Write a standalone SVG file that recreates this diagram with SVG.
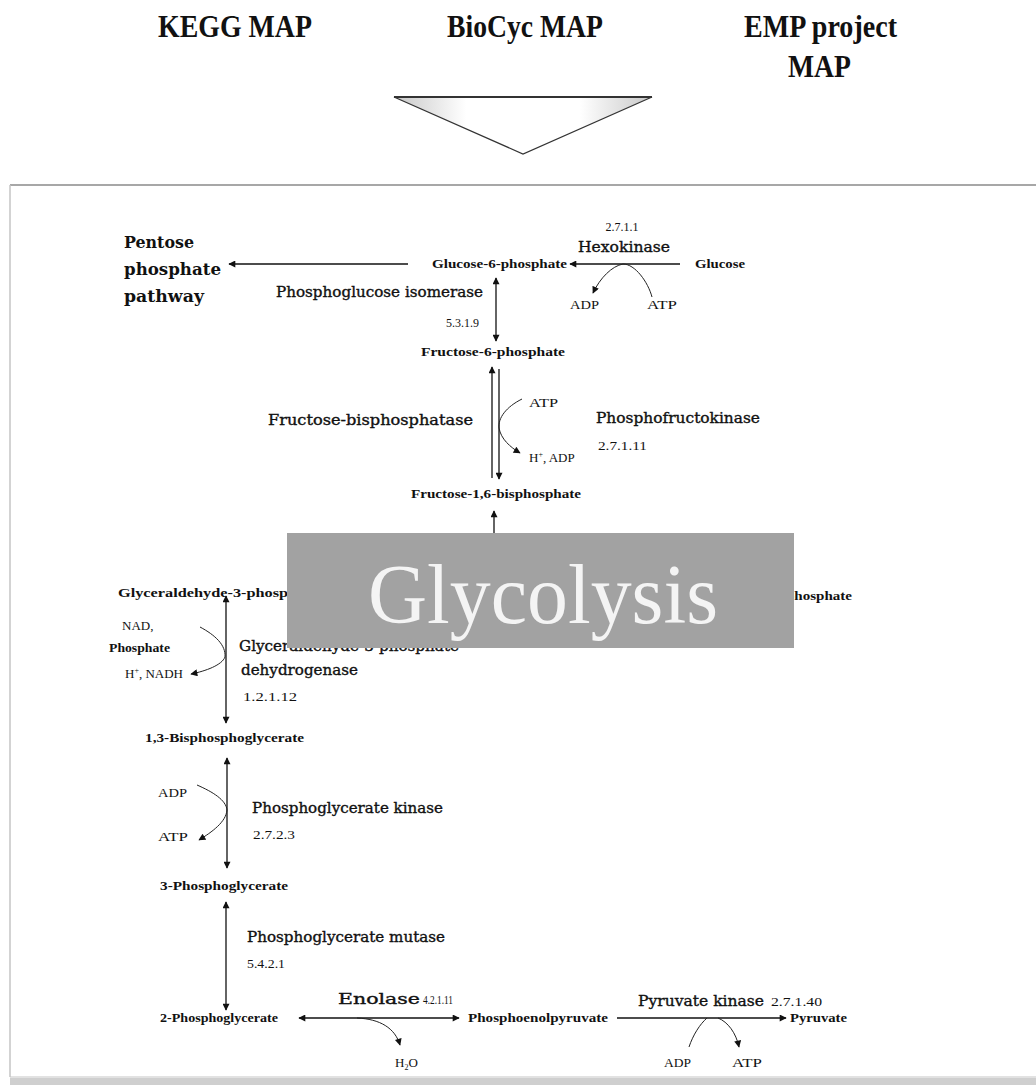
<svg xmlns="http://www.w3.org/2000/svg" width="1036" height="1085" viewBox="0 0 1036 1085">
<defs>
<marker id="ah" viewBox="0 0 10 10" refX="9" refY="5" markerWidth="8" markerHeight="7" markerUnits="userSpaceOnUse" orient="auto-start-reverse">
<path d="M0,0 L10,5 L0,10 z" fill="#111"/>
</marker>
<linearGradient id="tri" x1="0" y1="0" x2="1" y2="0">
<stop offset="0" stop-color="#c8c8c8"/>
<stop offset="0.28" stop-color="#ffffff"/>
<stop offset="0.72" stop-color="#ffffff"/>
<stop offset="1" stop-color="#c8c8c8"/>
</linearGradient>
<style>
.hdr{font-family:"Liberation Serif",serif;font-weight:bold;font-size:31px;fill:#111}
.met{font-family:"Liberation Serif",serif;font-weight:bold;font-size:12.5px;fill:#111}
.enz{font-family:"DejaVu Serif",serif;font-size:14.5px;fill:#111;stroke:#111;stroke-width:0.35}
.ppp{font-family:"DejaVu Serif",serif;font-weight:bold;font-size:17px;fill:#111}
.co{font-family:"Liberation Serif",serif;font-size:13px;fill:#111}
.ec{font-family:"Liberation Serif",serif;font-size:12px;fill:#111}
.ln{stroke:#111;stroke-width:1.3;fill:none}
.cv{stroke:#222;stroke-width:1;fill:none}
</style>
</defs>
<rect width="1036" height="1085" fill="#ffffff"/>

<g id="header">
<text class="hdr" x="158" y="37" textLength="154" lengthAdjust="spacingAndGlyphs">KEGG MAP</text>
<text class="hdr" x="447" y="37" textLength="156" lengthAdjust="spacingAndGlyphs">BioCyc MAP</text>
<text class="hdr" x="744" y="37" textLength="153" lengthAdjust="spacingAndGlyphs">EMP project</text>
<text class="hdr" x="788" y="77" textLength="63" lengthAdjust="spacingAndGlyphs">MAP</text>
<polygon points="394,97 652,97 523,154" fill="url(#tri)" stroke="#333" stroke-width="1.2"/>
<line x1="394" y1="97" x2="652" y2="97" stroke="#333" stroke-width="2"/>
</g>

<g id="frame">
<line x1="10" y1="185" x2="1036" y2="185" stroke="#8a8a8a" stroke-width="1.5"/>
<line x1="10" y1="185" x2="10" y2="1077" stroke="#c4c4c4" stroke-width="1.5"/>
<line x1="10" y1="1077" x2="1036" y2="1077" stroke="#c4c4c4" stroke-width="1"/>
<rect x="10" y="1078" width="1026" height="7" fill="#cfcfcf"/>
</g>

<g id="connectors">
<line class="ln" x1="408" y1="264" x2="229" y2="264" marker-end="url(#ah)"/>
<line class="ln" x1="680" y1="264" x2="570" y2="264" marker-end="url(#ah)"/>
<path class="cv" d="M623,264 C612,266 600,278 593,293" marker-end="url(#ah)"/>
<path class="cv" d="M623,264 C635,264 648,282 652,297"/>
<line class="ln" x1="496" y1="278" x2="496" y2="341" marker-start="url(#ah)" marker-end="url(#ah)"/>
<line class="ln" x1="492" y1="478" x2="492" y2="367" marker-end="url(#ah)"/>
<line class="ln" x1="499" y1="369" x2="499" y2="479" marker-end="url(#ah)"/>
<path class="cv" d="M522,399 C506,407 498,418 499,428 C501,439 510,447 520,453" marker-end="url(#ah)"/>
<line class="ln" x1="494" y1="533" x2="494" y2="511" marker-end="url(#ah)"/>
<line class="ln" x1="226" y1="596" x2="226" y2="723" marker-start="url(#ah)" marker-end="url(#ah)"/>
<path class="cv" d="M200,627 C215,635 226,645 225,657 C222,665 206,671 191,674" marker-end="url(#ah)"/>
<line class="ln" x1="227" y1="758" x2="227" y2="868" marker-start="url(#ah)" marker-end="url(#ah)"/>
<path class="cv" d="M197,785 C213,792 226,800 227,810 C226,822 212,832 199,840" marker-end="url(#ah)"/>
<line class="ln" x1="226" y1="902" x2="226" y2="1010" marker-start="url(#ah)" marker-end="url(#ah)"/>
<line class="ln" x1="299" y1="1018" x2="459" y2="1018" marker-start="url(#ah)" marker-end="url(#ah)"/>
<path class="cv" d="M357,1018 C380,1019 395,1028 400,1045" marker-end="url(#ah)"/>
<line class="ln" x1="617" y1="1018" x2="786" y2="1018" marker-end="url(#ah)"/>
<path class="cv" d="M689,1047 C693,1035 700,1024 707,1018"/>
<path class="cv" d="M718,1018 C728,1022 736,1033 739,1047" marker-end="url(#ah)"/>
</g>

<g id="pentose-phosphate-pathway">
<text class="ppp" x="124" y="248" textLength="70" lengthAdjust="spacingAndGlyphs">Pentose</text>
<text class="ppp" x="124" y="275" textLength="97" lengthAdjust="spacingAndGlyphs">phosphate</text>
<text class="ppp" x="124" y="302" textLength="80" lengthAdjust="spacingAndGlyphs">pathway</text>
</g>

<g id="glucose">
<text class="met" x="695" y="268" textLength="50" lengthAdjust="spacingAndGlyphs">Glucose</text>
</g>
<g id="hexokinase">
<text class="ec" x="622" y="231" text-anchor="middle">2.7.1.1</text>
<text class="enz" x="578" y="252" textLength="92" lengthAdjust="spacingAndGlyphs">Hexokinase</text>
<text class="co" x="570" y="309" textLength="29" lengthAdjust="spacingAndGlyphs">ADP</text>
<text class="co" x="647" y="309" textLength="30" lengthAdjust="spacingAndGlyphs">ATP</text>
</g>
<g id="glucose-6-phosphate">
<text class="met" x="432" y="268" textLength="135" lengthAdjust="spacingAndGlyphs">Glucose-6-phosphate</text>
</g>
<g id="phosphoglucose-isomerase">
<text class="enz" x="276" y="297" textLength="207" lengthAdjust="spacingAndGlyphs">Phosphoglucose isomerase</text>
<text class="ec" x="479" y="327" text-anchor="end">5.3.1.9</text>
</g>
<g id="fructose-6-phosphate">
<text class="met" x="421" y="356" textLength="144" lengthAdjust="spacingAndGlyphs">Fructose-6-phosphate</text>
</g>
<g id="fructose-bisphosphatase">
<text class="enz" x="268" y="425" textLength="205" lengthAdjust="spacingAndGlyphs">Fructose-bisphosphatase</text>
</g>
<g id="phosphofructokinase">
<text class="co" x="529" y="407" textLength="29" lengthAdjust="spacingAndGlyphs">ATP</text>
<text class="co" x="529" y="462">H<tspan font-size="8" dy="-5">+</tspan><tspan dy="5">, ADP</tspan></text>
<text class="enz" x="596" y="423" textLength="164" lengthAdjust="spacingAndGlyphs">Phosphofructokinase</text>
<text class="ec" x="598" y="450" textLength="49" lengthAdjust="spacingAndGlyphs">2.7.1.11</text>
</g>
<g id="fructose-1-6-bisphosphate">
<text class="met" x="411" y="498" textLength="170" lengthAdjust="spacingAndGlyphs">Fructose-1,6-bisphosphate</text>
</g>

<g id="glyceraldehyde-3-phosphate">
<text class="met" x="118" y="597" textLength="200" lengthAdjust="spacingAndGlyphs">Glyceraldehyde-3-phosphate</text>
</g>
<g id="dihydroxyacetone-phosphate">
<text class="met" x="852" y="600" text-anchor="end" textLength="66" lengthAdjust="spacingAndGlyphs">phosphate</text>
</g>
<g id="gapdh">
<text class="co" x="122" y="630">NAD,</text>
<text class="met" x="109" y="652" textLength="61" lengthAdjust="spacingAndGlyphs">Phosphate</text>
<text class="co" x="125" y="678">H<tspan font-size="8" dy="-5">+</tspan><tspan dy="5">, NADH</tspan></text>
<text class="enz" x="239" y="651" textLength="220" lengthAdjust="spacingAndGlyphs">Glyceraldehyde-3-phosphate</text>
<text class="enz" x="241" y="675" textLength="117" lengthAdjust="spacingAndGlyphs">dehydrogenase</text>
<text class="ec" x="243" y="701" textLength="54" lengthAdjust="spacingAndGlyphs">1.2.1.12</text>
</g>

<g id="glycolysis-banner">
<rect x="287" y="533" width="507" height="115" fill="#a2a2a2"/>
<text x="368" y="623" font-family="Liberation Serif, serif" font-size="84" fill="#f4f4f4" textLength="350" lengthAdjust="spacingAndGlyphs">Glycolysis</text>
</g>

<g id="bisphosphoglycerate">
<text class="met" x="145" y="742" textLength="159" lengthAdjust="spacingAndGlyphs">1,3-Bisphosphoglycerate</text>
</g>
<g id="phosphoglycerate-kinase">
<text class="co" x="158" y="797" textLength="29" lengthAdjust="spacingAndGlyphs">ADP</text>
<text class="co" x="158" y="841" textLength="30" lengthAdjust="spacingAndGlyphs">ATP</text>
<text class="enz" x="252" y="813" textLength="191" lengthAdjust="spacingAndGlyphs">Phosphoglycerate kinase</text>
<text class="ec" x="253" y="839" textLength="42" lengthAdjust="spacingAndGlyphs">2.7.2.3</text>
</g>
<g id="3-phosphoglycerate">
<text class="met" x="160" y="890" textLength="128" lengthAdjust="spacingAndGlyphs">3-Phosphoglycerate</text>
</g>
<g id="phosphoglycerate-mutase">
<text class="enz" x="247" y="942" textLength="198" lengthAdjust="spacingAndGlyphs">Phosphoglycerate mutase</text>
<text class="ec" x="247" y="968" textLength="38" lengthAdjust="spacingAndGlyphs">5.4.2.1</text>
</g>
<g id="2-phosphoglycerate">
<text class="met" x="160" y="1022" textLength="118" lengthAdjust="spacingAndGlyphs">2-Phosphoglycerate</text>
</g>
<g id="enolase">
<text class="enz" x="338" y="1004" textLength="82" lengthAdjust="spacingAndGlyphs">Enolase</text>
<text class="ec" x="423" y="1004" textLength="30" lengthAdjust="spacingAndGlyphs">4.2.1.11</text>
<text class="co" x="395" y="1067">H<tspan font-size="8" dy="3">2</tspan><tspan dy="-3">O</tspan></text>
</g>
<g id="phosphoenolpyruvate">
<text class="met" x="468" y="1022" textLength="140" lengthAdjust="spacingAndGlyphs">Phosphoenolpyruvate</text>
</g>
<g id="pyruvate-kinase">
<text class="enz" x="638" y="1006" textLength="126" lengthAdjust="spacingAndGlyphs">Pyruvate kinase</text>
<text class="ec" x="771" y="1006" textLength="51" lengthAdjust="spacingAndGlyphs">2.7.1.40</text>
<text class="co" x="664" y="1067" textLength="27" lengthAdjust="spacingAndGlyphs">ADP</text>
<text class="co" x="732" y="1067" textLength="30" lengthAdjust="spacingAndGlyphs">ATP</text>
</g>
<g id="pyruvate">
<text class="met" x="790" y="1022" textLength="57" lengthAdjust="spacingAndGlyphs">Pyruvate</text>
</g>
</svg>
